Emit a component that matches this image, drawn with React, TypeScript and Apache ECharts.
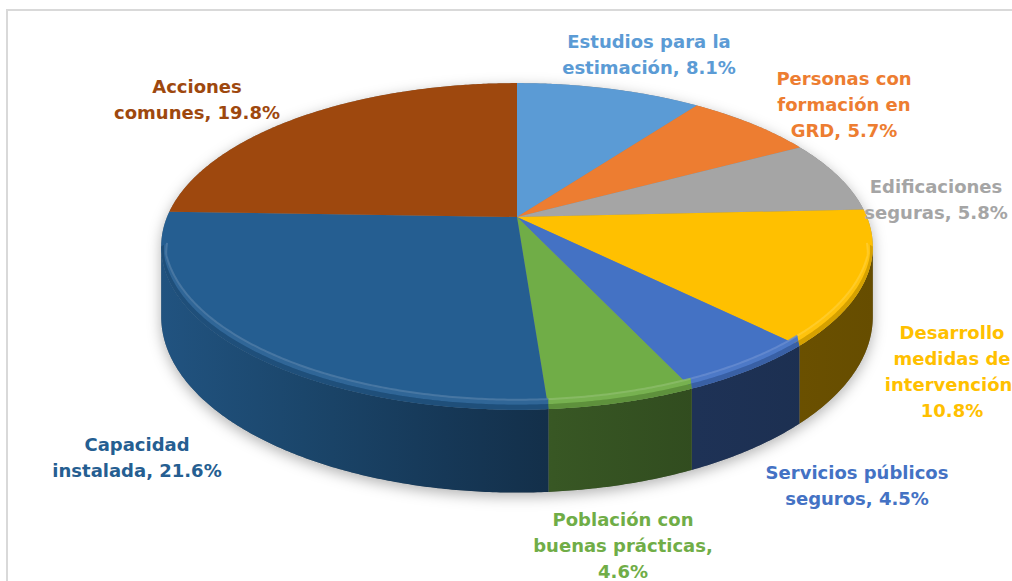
import React, { useEffect, useRef } from "react";
import * as echarts from "echarts";

// ---------- data ----------
const categories: string[] = [
  "Estudios para la\nestimación",
  "Personas con\nformación en\nGRD",
  "Edificaciones\nseguras",
  "Desarrollo\nmedidas de\nintervención",
  "Servicios públicos\nseguros",
  "Población con\nbuenas prácticas",
  "Capacidad\ninstalada",
  "Acciones\ncomunes",
];
const values: number[] = [8.1, 5.7, 5.8, 10.8, 4.5, 4.6, 21.6, 19.8];
const valueOnNewLine: boolean[] = [false, false, false, true, false, true, false, false];
const colors: string[] = [
  "#5B9BD5", "#ED7D31", "#A5A5A5", "#FFC000",
  "#4472C4", "#70AD47", "#255E91", "#9E480E",
];

// ---------- layout ----------
const LABEL_POS: [number, number][] = [
  [649, 54], [844, 104], [936, 199], [952, 371],
  [857, 485], [623, 545], [137, 457], [197, 99],
];
const CX = 517, CY = 217, RX = 350, RY = 158, P = 0.18, H = 68;
const PHI_R = Math.acos(-P);
const PHI_L = 2 * Math.PI - PHI_R;
const BEVEL = 10;

function proj(phi: number, r: number, bottom = false, dy = 0): [number, number] {
  const c = Math.cos(phi), s = Math.sin(phi);
  const w = 1 + P * r * c;
  const d = bottom ? H / (1 + P * c) : 0;
  return [CX + (RX * r * s) / w, CY - (RY * r * c) / w + d + dy];
}
function arc(a0: number, a1: number, r: number, bottom = false, dy = 0): [number, number][] {
  const n = Math.max(2, Math.ceil(Math.abs(a1 - a0) / (Math.PI / 360)));
  const pts: [number, number][] = [];
  for (let k = 0; k <= n; k++) pts.push(proj(a0 + ((a1 - a0) * k) / n, r, bottom, dy));
  return pts;
}
// bevel offset fades out toward the silhouette so the rim stays on the face
function bevelArc(a0: number, a1: number, amt: number): [number, number][] {
  const n = Math.max(2, Math.ceil(Math.abs(a1 - a0) / (Math.PI / 360)));
  const pts: [number, number][] = [];
  for (let k = 0; k <= n; k++) {
    const a = a0 + ((a1 - a0) * k) / n;
    const t = Math.min(1, Math.min(a - PHI_R, PHI_L - a) / 0.12);
    const [x, y] = proj(a, 1);
    pts.push([x - Math.sin(a) * amt * 0.6 * (1 - t * 0.5), y - amt * Math.max(0.35, t)]);
  }
  return pts;
}
function hex(c: string): number[] {
  const v = parseInt(c.slice(1), 16);
  return [(v >> 16) & 255, (v >> 8) & 255, v & 255];
}
function scale(c: string, f: number): string {
  const [r, g, b] = hex(c);
  return `rgb(${Math.round(r * f)},${Math.round(g * f)},${Math.round(b * f)})`;
}
function mix(c: string, t: number): string {
  const [r, g, b] = hex(c);
  return `rgb(${Math.round(r + (255 - r) * t)},${Math.round(g + (255 - g) * t)},${Math.round(b + (255 - b) * t)})`;
}
function sliceAngles(i: number): [number, number] {
  const total = values.reduce((a, b) => a + b, 0);
  let cum = 0;
  for (let k = 0; k < i; k++) cum += values[k];
  return [(cum / total) * 2 * Math.PI, ((cum + values[i]) / total) * 2 * Math.PI];
}
const WALL_STOPS: [number, number][] = [
  [0, 0.88], [0.2, 0.74], [0.4, 0.6], [0.55, 0.5], [0.75, 0.44], [1, 0.4],
];

export default function App() {
  const ref = useRef<HTMLDivElement>(null);
  useEffect(() => {
    if (!ref.current) return;
    const chart = echarts.init(ref.current, undefined, { renderer: "svg" });

    const shadowPts = [...arc(PHI_R, PHI_L, 1, true), ...arc(PHI_L, PHI_R + 2 * Math.PI, 1, false)];

    const labels = categories.map((name, i) => ({
      type: "text",
      x: LABEL_POS[i][0],
      y: LABEL_POS[i][1],
      z: 20,
      style: {
        text: `${name},${valueOnNewLine[i] ? "\n" : " "}${values[i].toFixed(1)}%`,
        fill: colors[i],
        font: 'bold 18px "DejaVu Sans"',
        align: "center",
        verticalAlign: "middle",
        lineHeight: 26,
      },
    }));

    chart.setOption({
      animation: false,
      backgroundColor: "#ffffff",
      graphic: [
        {
          type: "rect",
          z: 0,
          shape: { x: 7, y: 10, width: 1030, height: 600 },
          style: { fill: "none", stroke: "#d9d9d9", lineWidth: 2 },
        },
        {
          type: "polygon",
          z: 1,
          shape: { points: shadowPts },
          style: {
            fill: "#888",
            shadowBlur: 14,
            shadowColor: "rgba(0,0,0,0.3)",
            shadowOffsetY: 4,
          },
        },
        ...labels,
      ],
      series: [
        {
          type: "custom",
          coordinateSystem: "none",
          z: 3,
          data: values,
          renderItem: (params: any) => {
            const i = params.dataIndex;
            const [a0, a1] = sliceAngles(i);
            const lo = Math.max(a0, PHI_R), hi = Math.min(a1, PHI_L);
            if (hi <= lo) return { type: "group", children: [] };
            const pts = [...arc(lo, hi, 1, false), ...arc(hi, lo, 1, true)];
            const grad = new echarts.graphic.LinearGradient(
              CX - RX * 1.02, 0, CX + RX * 1.02, 0,
              WALL_STOPS.map(([o, f]) => ({ offset: o, color: scale(colors[i], f) })),
              true
            );
            return { type: "polygon", shape: { points: pts }, style: { fill: grad } };
          },
        },
        {
          type: "custom",
          coordinateSystem: "none",
          z: 4,
          data: values,
          renderItem: (params: any) => {
            const i = params.dataIndex;
            const [a0, a1] = sliceAngles(i);
            const children: any[] = [
              {
                type: "polygon",
                shape: { points: [[CX, CY], ...arc(a0, a1, 1)] },
                style: { fill: colors[i] },
              },
            ];
            const lo = Math.max(a0, PHI_R), hi = Math.min(a1, PHI_L);
            if (hi > lo) {
              children.push({
                type: "polygon",
                shape: { points: [...bevelArc(lo, hi, BEVEL), ...bevelArc(hi, lo, BEVEL * 0.5)] },
                style: { fill: mix(colors[i], 0.05) },
              });
              children.push({
                type: "polygon",
                shape: { points: [...bevelArc(lo, hi, BEVEL * 0.5), ...arc(hi, lo, 1)] },
                style: { fill: scale(colors[i], 0.84) },
              });
              children.push({
                type: "polyline",
                shape: { points: bevelArc(lo, hi, BEVEL) },
                style: { fill: "none", stroke: mix(colors[i], 0.2), lineWidth: 2, opacity: 0.75 },
              });
            }
            return { type: "group", children };
          },
        },
      ],
    });
    return () => chart.dispose();
  }, []);
  return (
    <div
      ref={ref}
      style={{ position: "absolute", left: 0, top: 0, width: 1012, height: 581 }}
    />
  );
}
